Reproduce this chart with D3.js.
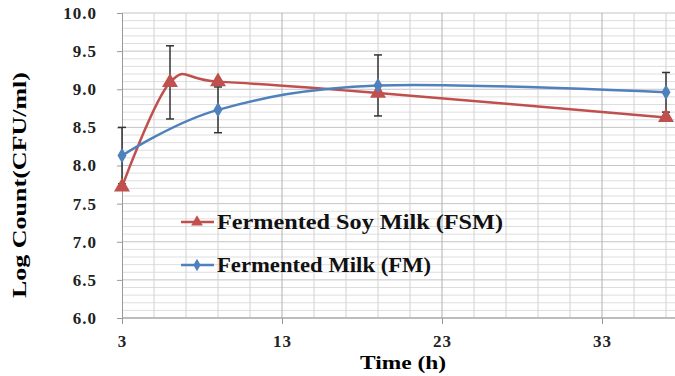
<!DOCTYPE html>
<html>
<head>
<meta charset="utf-8">
<script src="https://cdn.jsdelivr.net/npm/d3@7"></script>
<style>
  body { margin: 0; background: #fff; }
  svg { display: block; }
</style>
</head>
<body>
<svg id="chart" width="675" height="376"></svg>
<script>
// data
const fsmTime = [3, 6, 9, 19, 37];
const fsmCount = [7.72, 9.09, 9.1, 8.95, 8.63];
const fsmErr = [null, 0.48, null, null, null];

const fmTime = [3, 9, 19, 37];
const fmCount = [8.13, 8.73, 9.05, 8.96];
const fmErr = [0.37, 0.3, 0.4, 0.26];

const yTicks = [6.0, 6.5, 7.0, 7.5, 8.0, 8.5, 9.0, 9.5, 10.0];
const xTicks = [3, 13, 23, 33];
const legendLabels = ["Fermented Soy Milk (FSM)", "Fermented Milk (FM)"];

const red = "#c0504d", blue = "#4f81bd";
const serif = "'Liberation Serif', 'Times New Roman', serif";

const svg = d3.select("#chart");
const x = d3.scaleLinear().domain([3, 39]).range([122, 698]);
const y = d3.scaleLinear().domain([6, 10]).range([318, 13]);

// grid
const grid = svg.append("g");
grid.selectAll("line.hmin")
  .data(d3.range(60, 101).map(d => d / 10))
  .join("line")
  .attr("x1", x(3)).attr("x2", 675)
  .attr("y1", d => y(d)).attr("y2", d => y(d))
  .attr("stroke", d => Math.round(d * 10) % 5 === 0 ? "#c4c4c4" : "#dedede")
  .attr("stroke-width", 1);
grid.selectAll("line.vmin")
  .data(d3.range(5, 40, 2))
  .join("line")
  .attr("x1", d => x(d)).attr("x2", d => x(d))
  .attr("y1", y(10)).attr("y2", y(6))
  .attr("stroke", d => (d - 3) % 10 === 0 ? "#b0b0b0" : "#d2d2d2")
  .attr("stroke-width", 1);

// axes
const yAxis = svg.append("g")
  .attr("transform", `translate(${x(3)},0)`)
  .call(d3.axisLeft(y).tickValues(yTicks).tickFormat(d3.format(".1f")).tickSize(5).tickPadding(20));
const xAxis = svg.append("g")
  .attr("transform", `translate(0,${y(6)})`)
  .call(d3.axisBottom(x).tickValues(xTicks).tickSize(6).tickPadding(11));
[yAxis, xAxis].forEach(a => {
  a.select(".domain").attr("stroke", "#999");
  a.selectAll(".tick line").attr("stroke", "#999");
  a.selectAll("text").style("font-family", serif).style("font-weight", "bold")
    .attr("font-size", 17).attr("letter-spacing", 1).attr("fill", "#222");
});
xAxis.select(".domain").attr("d", `M${x(3)},0H675`);

// axis titles
svg.append("text")
  .attr("x", 403).attr("y", 369).attr("text-anchor", "middle")
  .style("font-family", serif).style("font-weight", "bold")
  .attr("font-size", 19).attr("textLength", 86).attr("lengthAdjust", "spacingAndGlyphs")
  .text("Time (h)");
svg.append("text")
  .attr("transform", "translate(26,185) rotate(-90)")
  .attr("text-anchor", "middle")
  .style("font-family", serif).style("font-weight", "bold")
  .attr("font-size", 19).attr("textLength", 226).attr("lengthAdjust", "spacingAndGlyphs")
  .text("Log Count(CFU/ml)");

// lines
const line = d3.line().curve(d3.curveCardinal.tension(0))
  .x(d => x(d[0])).y(d => y(d[1]));
const fsm = fsmTime.map((t, i) => [t, fsmCount[i], fsmErr[i]]);
const fm = fmTime.map((t, i) => [t, fmCount[i], fmErr[i]]);

svg.append("path").datum(fsm).attr("d", line)
  .attr("fill", "none").attr("stroke", red).attr("stroke-width", 2.5);
svg.append("path").datum(fm).attr("d", line)
  .attr("fill", "none").attr("stroke", blue).attr("stroke-width", 2.5);

// error bars
function errorBars(data) {
  const g = svg.append("g").attr("stroke", "#333").attr("stroke-width", 1.5);
  data.filter(d => d[2] != null).forEach(d => {
    const cx = x(d[0]), t = y(d[1] + d[2]), b = y(d[1] - d[2]);
    g.append("line").attr("x1", cx).attr("x2", cx).attr("y1", t).attr("y2", b);
    g.append("line").attr("x1", cx - 4).attr("x2", cx + 4).attr("y1", t).attr("y2", t);
    g.append("line").attr("x1", cx - 4).attr("x2", cx + 4).attr("y1", b).attr("y2", b);
  });
}
errorBars(fm);
errorBars(fsm);

// markers
const tri = d3.symbol(d3.symbolTriangle, 110);
const dia = d3.symbol(d3.symbolDiamond, 70);
svg.selectAll("path.fsm").data(fsm).join("path")
  .attr("transform", d => `translate(${x(d[0])},${y(d[1])})`)
  .attr("d", tri).attr("fill", red);
svg.selectAll("path.fm").data(fm).join("path")
  .attr("transform", d => `translate(${x(d[0])},${y(d[1])})`)
  .attr("d", dia).attr("fill", blue);

// legend
const legend = svg.append("g");
const legendWidths = [286, 214];
[[red, tri], [blue, dia]].forEach(([c, sym], i) => {
  const ly = 222 + i * 43;
  legend.append("line").attr("x1", 181).attr("x2", 214).attr("y1", ly).attr("y2", ly)
    .attr("stroke", c).attr("stroke-width", 2.5);
  legend.append("path").attr("transform", `translate(197,${ly})`)
    .attr("d", i === 0 ? d3.symbol(d3.symbolTriangle, 60) : d3.symbol(d3.symbolDiamond, 45))
    .attr("fill", c);
  legend.append("text").attr("x", 217).attr("y", ly + 7)
    .style("font-family", serif).style("font-weight", "bold")
    .attr("font-size", 20).attr("fill", "#111")
    .attr("textLength", legendWidths[i]).attr("lengthAdjust", "spacingAndGlyphs")
    .text(legendLabels[i]);
});
</script>
</body>
</html>
